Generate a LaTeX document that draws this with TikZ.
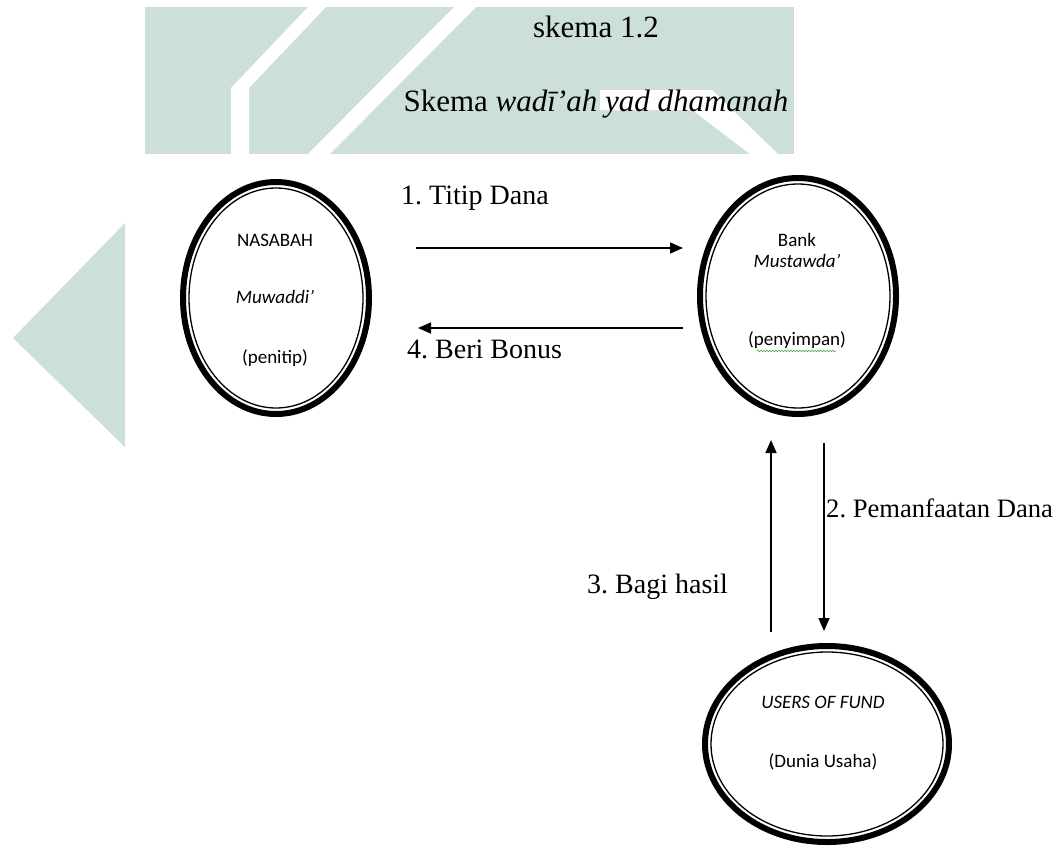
\documentclass[tikz,border=0pt]{standalone}
\usepackage{fontspec}
\setmainfont{Liberation Serif}
\newfontfamily\calib{Carlito}
\usetikzlibrary{shapes.geometric,arrows.meta,decorations.pathmorphing}
\definecolor{wm}{RGB}{205,224,215}
\definecolor{spell}{RGB}{70,170,70}
\frenchspacing
\begin{document}
\begin{tikzpicture}[x=1pt,y=-1pt,
  lbl/.style={font=\fontsize{28}{32}\selectfont, inner sep=0pt, anchor=base west},
  ttl/.style={font=\fontsize{31}{36}\selectfont, inner sep=0pt, anchor=base},
  intext/.style={font=\calib\fontsize{19}{22}\selectfont, inner sep=0pt, anchor=base},
  arr/.style={line width=1.6pt, -{Triangle[length=13pt,width=11pt]}},
  ringnode/.style={ellipse, draw, line width=6pt, inner sep=0pt},
  innerring/.style={line width=1.3pt},
  wmfill/.style={fill=wm, draw=none},
  gap/.style={fill=white, draw=none}]
\useasboundingbox (0,0) rectangle (1062,846);
\fill[white] (0,0) rectangle (1062,846);
% watermark
\path[wmfill] (145,7) rectangle (794,154);
\path[gap] (308,7) -- (326,7) -- (249,88) -- (249,154) -- (231,154) -- (231,88) -- cycle;
\path[gap] (454,7) -- (476,7) -- (330,154) -- (308,154) -- cycle;
\path[gap] (600,90) -- (712,90) -- (778,154) -- (750,154) -- (692,110) -- (600,110) -- cycle;
\path[wmfill] (13,338) -- (125,223) -- (125,447) -- cycle;
% titles
\node[ttl] (t1) at (596,37) {skema 1.2};
\node[ttl] (t2) at (596,111) {Skema \textit{wadī’ah yad dhamanah}};
% ellipses
\node[ringnode, minimum width=186pt, minimum height=232pt] (nas) at (276,298) {};
\draw[innerring] (nas.center) ellipse [x radius=87pt, y radius=110pt];
\node[ringnode, minimum width=196pt, minimum height=236pt] (bank) at (798,296) {};
\draw[innerring] (bank.center) ellipse [x radius=92pt, y radius=112pt];
\node[ringnode, minimum width=244pt, minimum height=196pt] (users) at (827,744) {};
\draw[innerring] (users.center) ellipse [x radius=116pt, y radius=92pt];
% ellipse texts
\node[intext] (n1) at (275,246) {NASABAH};
\node[intext] (n2) at (275,303) {\itshape Muwaddi’};
\node[intext] (n3) at (275,363) {(penitip)};
\node[intext] (b1) at (797,246) {Bank};
\node[intext] (b2) at (797,267) {\itshape Mustawda’};
\node[intext] (b3) at (797,345) {(penyimpan)};
\draw[spell, line width=0.6pt, decorate, decoration={snake, amplitude=0.8pt, segment length=3pt}] (757,351) -- (836,351);
\node[intext] (u1) at (823,708) {\itshape USERS OF FUND};
\node[intext] (u2) at (823,767) {(Dunia Usaha)};
% arrows
\draw[arr, shorten <=44pt, shorten >=14pt] (nas.east |- 0,248) -- (bank.west |- 0,248);
\draw[arr, shorten <=14pt, shorten >=46pt] (bank.west |- 0,328) -- (nas.east |- 0,328);
\draw[arr, shorten <=26pt, shorten >=12pt] (bank.south -| 824,0) -- (users.north -| 824,0);
\draw[arr, shorten <=11pt, shorten >=23pt] (users.north -| 771,0) -- (bank.south -| 771,0);
% labels
\node[lbl] (l1) at (401,204) {1. Titip Dana};
\node[lbl] (l4) at (407,358) {4. Beri Bonus};
\node[lbl, font=\fontsize{26.6}{30}\selectfont] (l2) at (826,517) {2. Pemanfaatan Dana};
\node[lbl] (l3) at (587,593) {3. Bagi hasil};
\end{tikzpicture}
\end{document}
